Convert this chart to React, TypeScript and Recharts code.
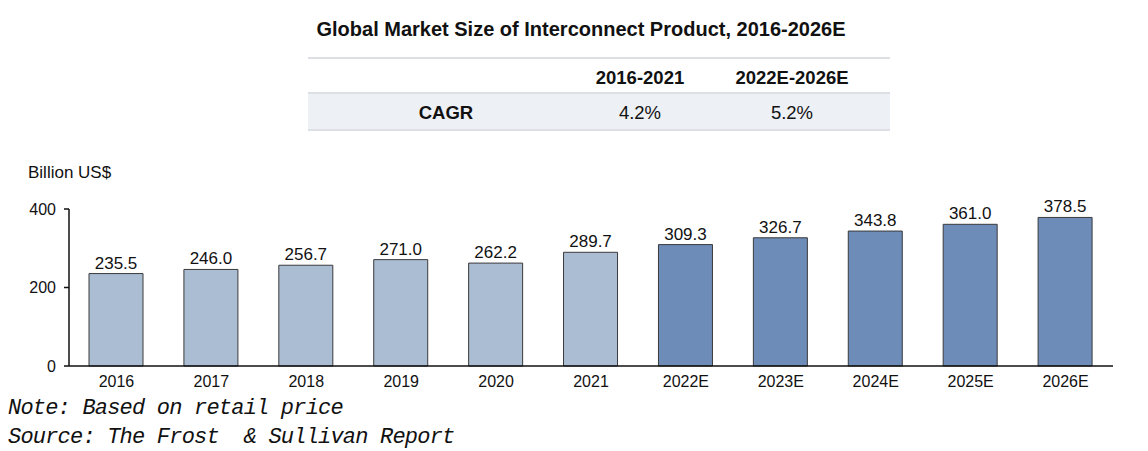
import React from "react";
import { BarChart, Bar, XAxis, YAxis, Cell, LabelList } from "recharts";

const years = ["2016", "2017", "2018", "2019", "2020", "2021", "2022E", "2023E", "2024E", "2025E", "2026E"];
const marketSize = [235.5, 246.0, 256.7, 271.0, 262.2, 289.7, 309.3, 326.7, 343.8, 361.0, 378.5];
const isForecast = [false, false, false, false, false, false, true, true, true, true, true];
const yTicks = [0, 200, 400];
const cagrPeriods = ["2016-2021", "2022E-2026E"];
const cagrValues = ["4.2%", "5.2%"];

const data = years.map((y, i) => ({ year: y, value: marketSize[i], forecast: isForecast[i] }));

const SANS = "'Liberation Sans', Arial, sans-serif";

export default function App() {
  return (
    <div style={{ position: "absolute", left: 0, top: 0, width: 1148, height: 451, background: "#fff", fontFamily: SANS, overflow: "hidden", lineHeight: "normal" }}>
      <div style={{ position: "absolute", left: 281, width: 600, top: 17.5, textAlign: "center", fontWeight: "bold", fontSize: 20, color: "#111", whiteSpace: "nowrap" }}>
        Global Market Size of Interconnect Product, 2016-2026E
      </div>
      {/* table */}
      <div style={{ position: "absolute", left: 308, top: 57, width: 582, height: 2, background: "#dcdfe4" }} />
      <div style={{ position: "absolute", left: 584, width: 112, top: 66.5, textAlign: "center", fontWeight: "bold", fontSize: 18.5, color: "#111" }}>{cagrPeriods[0]}</div>
      <div style={{ position: "absolute", left: 696, width: 192, top: 66.5, textAlign: "center", fontWeight: "bold", fontSize: 18.5, color: "#111" }}>{cagrPeriods[1]}</div>
      <div style={{ position: "absolute", left: 308, top: 92, width: 582, height: 2, background: "#dcdfe4" }} />
      <div style={{ position: "absolute", left: 308, top: 94, width: 582, height: 36, background: "#edf0f4" }} />
      <div style={{ position: "absolute", left: 308, top: 129, width: 582, height: 2, background: "#dcdfe4" }} />
      <div style={{ position: "absolute", left: 308, width: 276, top: 102, textAlign: "center", fontWeight: "bold", fontSize: 18.5, color: "#111" }}>CAGR</div>
      <div style={{ position: "absolute", left: 584, width: 112, top: 102, textAlign: "center", fontSize: 18.5, color: "#111" }}>{cagrValues[0]}</div>
      <div style={{ position: "absolute", left: 696, width: 192, top: 102, textAlign: "center", fontSize: 18.5, color: "#111" }}>{cagrValues[1]}</div>

      <div style={{ position: "absolute", left: 28, top: 163, fontSize: 17, color: "#111" }}>Billion US$</div>

      <div style={{ position: "absolute", left: 0, top: 0 }}>
        <BarChart width={1148} height={451} data={data} margin={{ top: 209, right: 35, bottom: 55, left: 9 }}>
          <YAxis
            domain={[0, 400]}
            ticks={yTicks}
            width={60}
            axisLine={{ stroke: "#111", strokeWidth: 1.5 }}
            tickLine={{ stroke: "#111", strokeWidth: 1.5 }}
            tickSize={5}
            tickMargin={8}
            tick={{ fill: "#111", fontSize: 16, fontFamily: SANS }}
          />
          <XAxis
            dataKey="year"
            axisLine={{ stroke: "#111", strokeWidth: 1.5 }}
            tickLine={false}
            tickSize={0}
            tickMargin={10}
            height={30}
            tick={{ fill: "#111", fontSize: 16, fontFamily: SANS }}
            interval={0}
          />
          <Bar dataKey="value" barSize={54} stroke="#3a3a3a" strokeWidth={1} isAnimationActive={false}>
            {data.map((d, i) => (
              <Cell key={i} fill={d.forecast ? "#6e8cb8" : "#abbdd3"} />
            ))}
            <LabelList
              dataKey="value"
              position="top"
              offset={5}
              formatter={(v: number) => v.toFixed(1)}
              style={{ fill: "#111", fontSize: 17, fontFamily: SANS }}
            />
          </Bar>
        </BarChart>
      </div>

      <div style={{ position: "absolute", left: 8, top: 394, fontFamily: "'Liberation Mono', 'Courier New', monospace", fontStyle: "italic", fontSize: 22, letterSpacing: -0.8, color: "#111", whiteSpace: "pre", lineHeight: "29px" }}>
        {"Note: Based on retail price\nSource: The Frost  & Sullivan Report"}
      </div>
    </div>
  );
}
